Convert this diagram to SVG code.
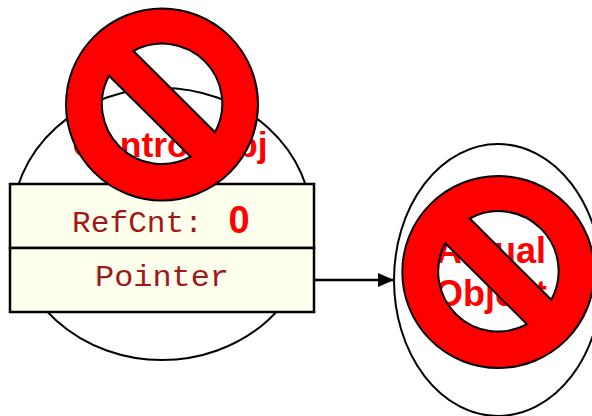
<svg xmlns="http://www.w3.org/2000/svg" width="592" height="416" viewBox="0 0 592 416">
<style>
.ell{fill:#fff;stroke:#000;stroke-width:2}
.box{fill:#ffffee;stroke:#000;stroke-width:2.5}
.lab{font-family:"Liberation Sans",Arial,sans-serif;font-weight:bold;fill:#f00;text-anchor:middle;font-size:36px}
.mono{font-family:"Liberation Mono","Courier New",monospace;fill:#a01818;font-size:30px}
.no{fill:#f00;stroke:#000;stroke-width:2;fill-rule:evenodd}
</style>
<defs>
<marker id="ah" markerUnits="userSpaceOnUse" markerWidth="16" markerHeight="14" refX="16" refY="7" orient="auto"><path d="M0 0L16 7L0 14Z" fill="#000"/></marker>
<path id="nosym" class="no" d="M-96 0A96 96 0 1 0 96 0A96 96 0 1 0 -96 0ZM-28.5 -53.5A60 60 0 0 1 53 27.8ZM-53 -28.8L28.7 52.2A60 60 0 0 1 -53 -28.8Z"/>
</defs>
<g id="control-obj">
<ellipse class="ell" cx="162" cy="224" rx="150" ry="136"/>
<text class="lab" x="170" y="157" style="font-size:35.5px">Control Obj</text>
</g>
<g id="actual-object">
<ellipse class="ell" cx="498" cy="280" rx="104" ry="136"/>
<text class="lab" x="491" y="263">Actual</text>
<text class="lab" x="491" y="306">Object</text>
</g>
<g id="connectors">
<line x1="314" y1="280" x2="394" y2="280" stroke="#000" stroke-width="2.5" marker-end="url(#ah)"/>
</g>
<g id="refcnt">
<rect class="box" x="10" y="184" width="304" height="64"/>
<text class="mono" x="72" y="232" textLength="131" lengthAdjust="spacingAndGlyphs">RefCnt:</text>
<text class="lab" x="239" y="232.5" style="font-size:38px">0</text>
</g>
<g id="pointer">
<rect class="box" x="10" y="248" width="304" height="64"/>
<text class="mono" x="95" y="286" textLength="134" lengthAdjust="spacingAndGlyphs">Pointer</text>
</g>
<g id="no-symbol-1"><use href="#nosym" x="162" y="104.5"/></g>
<g id="no-symbol-2"><use href="#nosym" x="498.3" y="272"/></g>
</svg>
